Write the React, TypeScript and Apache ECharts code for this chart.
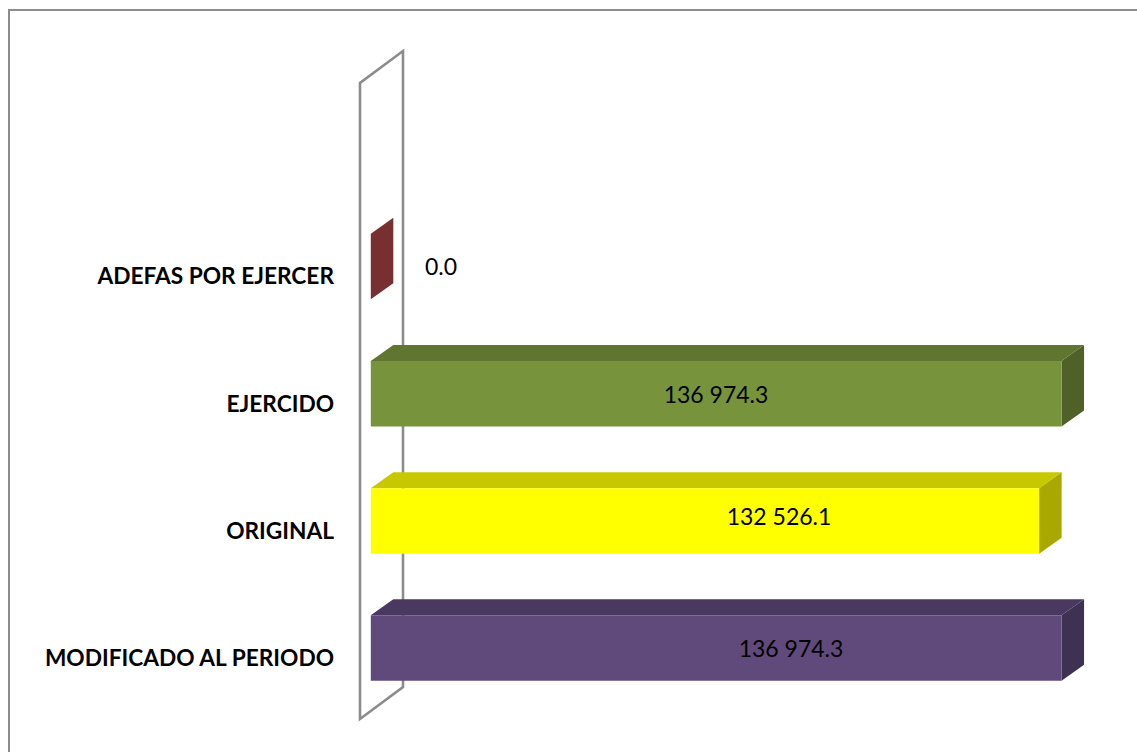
import React, { useEffect, useRef } from "react";
import * as echarts from "echarts";

const categories = ["MODIFICADO AL PERIODO", "ORIGINAL", "EJERCIDO", "ADEFAS POR EJERCER", ""];
const values = [136974.3, 132526.1, 136974.3, 0];
const valueLabels = ["136 974.3", "132 526.1", "136 974.3", "0.0"];
const frontColors = ["#604a7b", "#ffff00", "#77933c", "#772f2f"];
const topColors = ["#4a3860", "#c8c800", "#5f7530", "#772f2f"];
const sideColors = ["#3f3151", "#a8a800", "#4f6128", "#772f2f"];
const labelCentres = [
  [791, 648],
  [779, 516],
  [716, 394],
  [441, 266],
];

const FONT = "Lato, 'Open Sans', sans-serif";
const GRID = { left: 360, top: 83, width: 706, height: 636 };
const DX = 22.5;
const DY = -16;

export default function App() {
  const ref = useRef<HTMLDivElement>(null);
  useEffect(() => {
    const chart = echarts.init(ref.current!, undefined, { renderer: "svg" });
    chart.setOption({
      animation: false,
      backgroundColor: "#ffffff",
      grid: GRID,
      xAxis: { type: "value", min: 0, max: 140000, show: false },
      yAxis: {
        type: "category",
        data: categories,
        axisLine: { show: false },
        axisTick: { show: false },
        splitLine: { show: false },
        axisLabel: {
          interval: 0,
          margin: 26,
          formatter: (v: string) => (v ? `{a|${v}}` : ""),
          rich: {
            a: {
              color: "#000000",
              fontFamily: FONT,
              fontWeight: "bold",
              fontSize: 22.7,
              padding: [4, 0, 0, 0],
            },
          },
        },
      },
      graphic: [
        {
          type: "polyline",
          silent: true,
          z: 0,
          shape: { points: [[1137, 10], [9, 10], [9, 752]] },
          style: { stroke: "#8c8c8c", lineWidth: 2, fill: "none" },
        },
      ],
      series: [
        {
          type: "custom",
          z: 1,
          silent: true,
          coordinateSystem: "cartesian2d",
          data: [[0, 0]],
          renderItem: (params: any) => {
            const c = params.coordSys;
            const l = c.x;
            const t = c.y;
            const b = c.y + c.height;
            const wx = 43;
            const wy = DY * 2;
            return {
              type: "polygon",
              shape: { points: [[l, b], [l, t], [l + wx, t + wy], [l + wx, b + wy]] },
              style: { fill: "none", stroke: "#8c8c8c", lineWidth: 2.6 },
            };
          },
        },
        {
          type: "custom",
          z: 2,
          silent: true,
          coordinateSystem: "cartesian2d",
          encode: { x: 0, y: 1 },
          data: values.map((v, i) => [v, i]),
          renderItem: (params: any, api: any) => {
            const i = params.dataIndex;
            const [x, y] = api.coord([api.value(0), api.value(1)]);
            const [x0] = api.coord([0, api.value(1)]);
            const band = api.size([0, 1])[1];
            const h = band * 0.515;
            const shift = 10.8;
            const xl = x0 + shift;
            const xr = x + shift;
            const yb = y + DY / 2 + h / 2 + 0.7;
            const yt = yb - h;
            const children: any[] = [];
            children.push({
              type: "polygon",
              shape: { points: [[xr, yb], [xr, yt], [xr + DX, yt + DY], [xr + DX, yb + DY]] },
              style: { fill: sideColors[i] },
            });
            if (xr > xl) {
              children.push({
                type: "polygon",
                shape: { points: [[xl, yt], [xr, yt], [xr + DX, yt + DY], [xl + DX, yt + DY]] },
                style: { fill: topColors[i] },
              });
              children.push({
                type: "rect",
                shape: { x: xl, y: yt, width: xr - xl, height: h },
                style: { fill: frontColors[i] },
              });
            }
            children.push({
              type: "text",
              x: labelCentres[i][0],
              y: labelCentres[i][1],
              style: {
                text: valueLabels[i],
                fill: "#000000",
                fontFamily: FONT,
                fontSize: 23,
                align: "center",
                verticalAlign: "middle",
              },
            });
            return { type: "group", children };
          },
        },
      ],
    });
    return () => chart.dispose();
  }, []);
  return (
    <div
      ref={ref}
      style={{ position: "absolute", left: 0, top: 0, width: 1137, height: 752 }}
    />
  );
}
